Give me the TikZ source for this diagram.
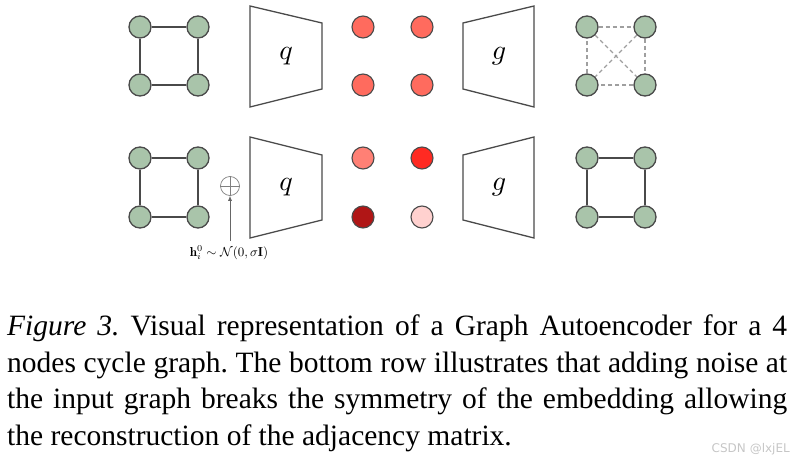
\documentclass[tikz,border=0pt]{standalone}
\usepackage{fontspec}
\usepackage{amsmath}
\usetikzlibrary{arrows.meta}
\newfontfamily\capfont{Liberation Serif}
\newfontfamily\wmfont{DejaVu Sans}
\definecolor{gnode}{HTML}{A9C4AA}
\definecolor{edgec}{HTML}{4A4A4A}
\definecolor{redA}{HTML}{FF6B5E}
\definecolor{redB}{HTML}{FF8075}
\definecolor{redC}{HTML}{FF2A22}
\definecolor{redD}{HTML}{B01616}
\definecolor{redE}{HTML}{FFD1CF}
\tikzset{
  gn/.style={circle, draw=edgec, line width=1.3pt, fill=gnode, minimum size=22pt, inner sep=0pt},
  rn/.style={circle, draw=edgec, line width=1.1pt, minimum size=22pt, inner sep=0pt},
  gedge/.style={draw=edgec, line width=1.3pt},
  dedge/.style={draw=gray!75, line width=1.2pt, dash pattern=on 4pt off 3pt},
  trap/.style={draw=edgec, line width=1.3pt},
  biglab/.style={scale=2.8, inner sep=0pt},
  caplinesty/.style={anchor=base west, inner sep=0pt, font=\capfont\fontsize{29.5}{37}\selectfont\frenchspacing},
}
\newcommand{\capline}[1]{\hbox to 780pt{#1}}
\begin{document}
\begin{tikzpicture}[x=1pt,y=-1pt]
\useasboundingbox (0,0) rectangle (798,460);
% ---------- top row ----------
\node[gn] (a1) at (140,27) {};
\node[gn] (a2) at (198,27) {};
\node[gn] (a3) at (140,85) {};
\node[gn] (a4) at (198,85) {};
\draw[gedge] (a1) -- (a2);
\draw[gedge] (a2) -- (a4);
\draw[gedge] (a4) -- (a3);
\draw[gedge] (a3) -- (a1);
\draw[trap] (250,6) -- (322,23) -- (322,89) -- (250,107) -- cycle;
\node[biglab] (q1) at (286,56) {$q$};
\node[rn, fill=redA] (r1) at (363,27) {};
\node[rn, fill=redA] (r2) at (422,27) {};
\node[rn, fill=redA] (r3) at (363,85) {};
\node[rn, fill=redA] (r4) at (422,85) {};
\draw[trap] (463,23) -- (534,6) -- (534,107) -- (463,89) -- cycle;
\node[biglab] (g1) at (499,56) {$g$};
\node[gn] (b1) at (587,27) {};
\node[gn] (b2) at (645,27) {};
\node[gn] (b3) at (587,85) {};
\node[gn] (b4) at (645,85) {};
\draw[dedge] (b1) -- (b2);
\draw[dedge] (b2) -- (b4);
\draw[dedge] (b4) -- (b3);
\draw[dedge] (b3) -- (b1);
\draw[dedge] (b1) -- (b4);
\draw[dedge] (b2) -- (b3);
% ---------- bottom row ----------
\node[gn] (c1) at (140,158) {};
\node[gn] (c2) at (198,158) {};
\node[gn] (c3) at (140,217) {};
\node[gn] (c4) at (198,217) {};
\draw[gedge] (c1) -- (c2);
\draw[gedge] (c2) -- (c4);
\draw[gedge] (c4) -- (c3);
\draw[gedge] (c3) -- (c1);
\node[circle, draw=gray, line width=0.7pt, minimum size=19pt, inner sep=0pt] (op) at (230,186) {};
\draw[gray, line width=0.7pt] (op.north) -- (op.south) (op.west) -- (op.east);
\node[inner sep=0pt, anchor=base, scale=1.3] (lab) at (229,256) {$\mathbf{h}_i^0 \sim \mathcal{N}(0,\sigma\mathbf{I})$};
\coordinate (arst) at (230,241);
\draw[-{Latex[length=5pt,width=4pt]}, gray!80!black, line width=0.7pt] (arst) -- (op.south);
\draw[trap] (250,137) -- (322,155) -- (322,220) -- (250,238) -- cycle;
\node[biglab] (q2) at (286,187) {$q$};
\node[rn, fill=redB] (s1) at (363,158) {};
\node[rn, fill=redC] (s2) at (422,158) {};
\node[rn, fill=redD] (s3) at (363,217) {};
\node[rn, fill=redE] (s4) at (422,217) {};
\draw[trap] (463,155) -- (534,137) -- (534,238) -- (463,220) -- cycle;
\node[biglab] (g2) at (499,187) {$g$};
\node[gn] (d1) at (587,158) {};
\node[gn] (d2) at (645,158) {};
\node[gn] (d3) at (587,217) {};
\node[gn] (d4) at (645,217) {};
\draw[gedge] (d1) -- (d2);
\draw[gedge] (d2) -- (d4);
\draw[gedge] (d4) -- (d3);
\draw[gedge] (d3) -- (d1);
% ---------- caption ----------
\node[caplinesty] (l1) at (7,335) {\capline{\textit{Figure 3.} Visual representation of a Graph Autoencoder for a 4}};
\node[caplinesty] (l2) at (7,372) {\capline{nodes cycle graph. The bottom row illustrates that adding noise at}};
\node[caplinesty] (l3) at (7,408) {\capline{the input graph breaks the symmetry of the embedding allowing}};
\node[caplinesty] (l4) at (7,445) {the reconstruction of the adjacency matrix.};
\node[anchor=base east, inner sep=0pt, text=gray!45, font=\wmfont\fontsize{12}{14}\selectfont] (wm) at (790,452) {CSDN @lxjEL};
\end{tikzpicture}
\end{document}
